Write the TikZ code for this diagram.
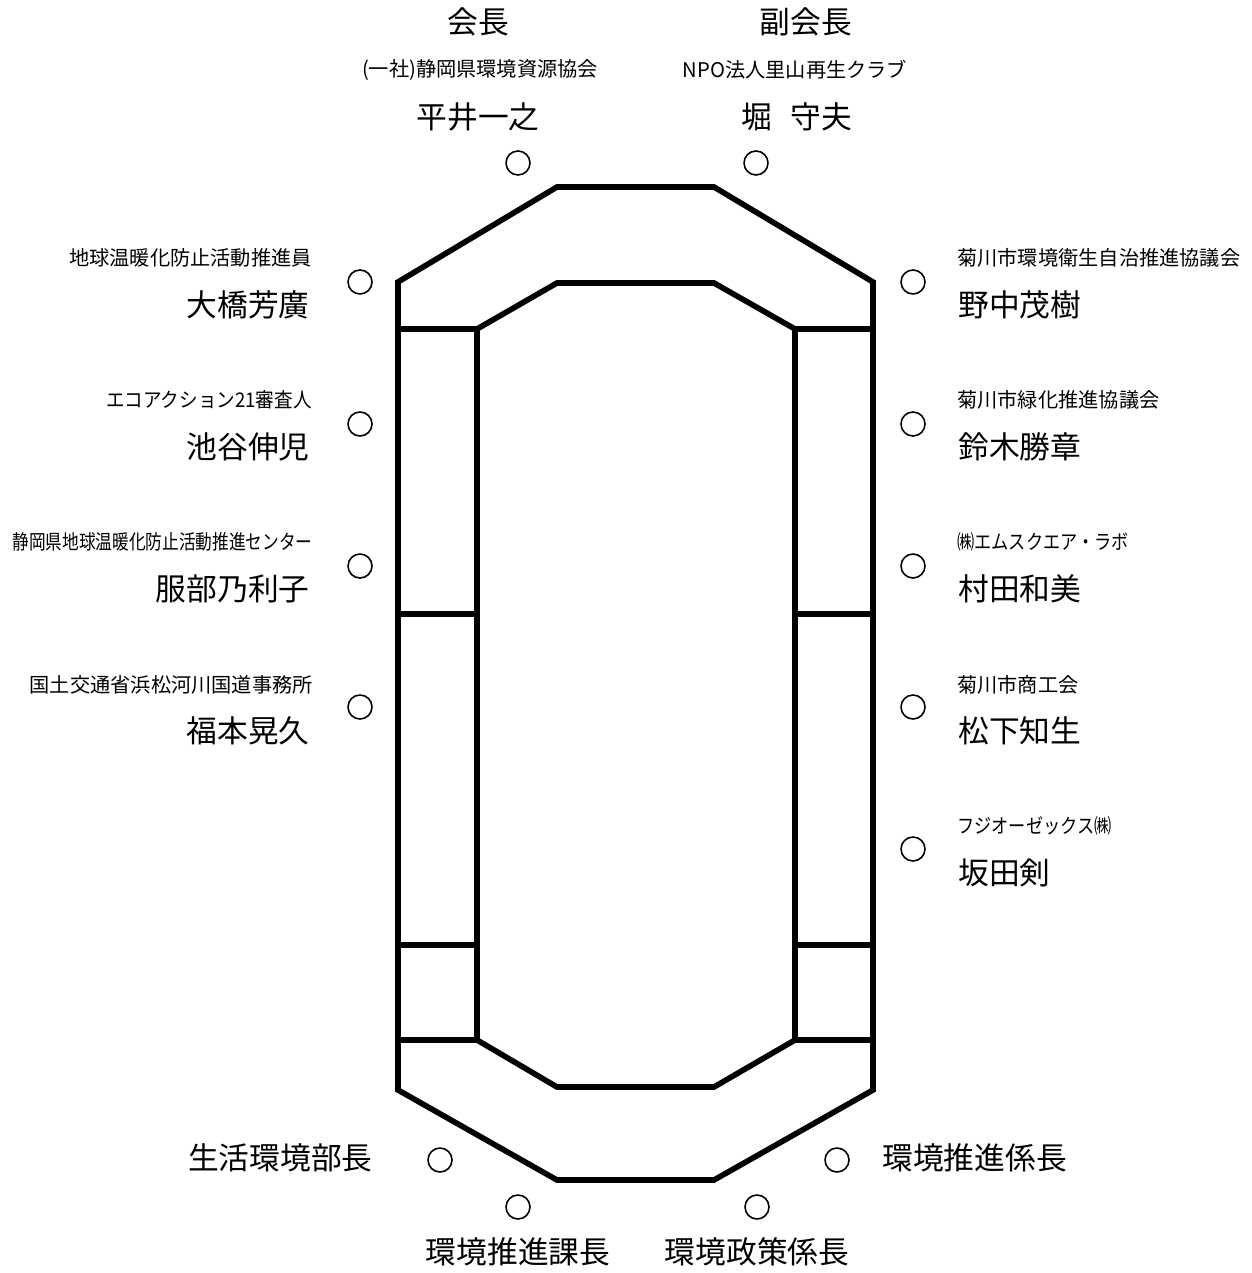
\documentclass[tikz,border=0pt]{standalone}
\usepackage{fontspec}
\setmainfont{Noto Sans CJK JP}
\begin{document}
\begin{tikzpicture}[x=0.02cm,y=-0.02cm,
  big/.style={font=\fontsize{17.5pt}{20pt}\selectfont, inner sep=0pt},
  small/.style={font=\fontsize{11.5pt}{13pt}\selectfont, inner sep=0pt},
  seat/.style={circle, draw, line width=0.9pt, minimum width=0.46cm, minimum height=0.48cm, inner sep=0pt},
  wall/.style={line width=3.2pt, line join=miter}]
\useasboundingbox (0,0) rectangle (1251,1273);
\fill[white] (0,0) rectangle (1251,1273);
% tables
\draw[wall] (557,187) -- (714,187) -- (873,282) -- (873,1090) -- (714,1180) -- (557,1180) -- (398,1090) -- (398,282) -- cycle;
\draw[wall] (557,283) -- (714,283) -- (795,329) -- (795,1040) -- (714,1087) -- (557,1087) -- (477,1040) -- (477,329) -- cycle;
\foreach \yy in {329,614,945,1040}{
  \draw[wall] (398,\yy) -- (477,\yy);
  \draw[wall] (795,\yy) -- (873,\yy);
}
% top
\node[big] (t1) at (478,22) {会長};
\node[big] (t2) at (806,22) {副会長};
\node[small] (o1) at (480,70) {(一社)静岡県環境資源協会};
\node[small] (o2) at (795,70) {NPO法人里山再生クラブ};
\node[big] (n1) at (478,117) {平井一之};
\node[big] (n2) at (797,117) {堀\hspace{0.6em}守夫};
\node[seat] (s1) at (518,163) {};
\node[seat] (s2) at (756,163) {};
% left side
\node[small, anchor=east] (lo1) at (312,258) {地球温暖化防止活動推進員};
\node[big, anchor=east] (ln1) at (310,305) {大橋芳廣};
\node[seat] (ls1) at (360,282) {};
\node[small, anchor=east] (lo2) at (312,400) {\scalebox{0.92}[1]{エコアクション21審査人}};
\node[big, anchor=east] (ln2) at (310,447) {池谷伸児};
\node[seat] (ls2) at (360,424) {};
\node[small, anchor=east] (lo3) at (313,542) {\scalebox{0.825}[1]{静岡県地球温暖化防止活動推進センター}};
\node[big, anchor=east] (ln3) at (310,589) {服部乃利子};
\node[seat] (ls3) at (360,566) {};
\node[small, anchor=east] (lo4) at (313,685) {国土交通省浜松河川国道事務所};
\node[big, anchor=east] (ln4) at (310,731) {福本晃久};
\node[seat] (ls4) at (360,707) {};
% right side
\node[small, anchor=west] (ro1) at (957,258) {菊川市環境衛生自治推進協議会};
\node[big, anchor=west] (rn1) at (958,305) {野中茂樹};
\node[seat] (rs1) at (913,282) {};
\node[small, anchor=west] (ro2) at (957,400) {菊川市緑化推進協議会};
\node[big, anchor=west] (rn2) at (958,447) {鈴木勝章};
\node[seat] (rs2) at (913,424) {};
\node[small, anchor=west] (ro3) at (957,542) {\scalebox{0.85}[1]{㈱エムスクエア・ラボ}};
\node[big, anchor=west] (rn3) at (958,589) {村田和美};
\node[seat] (rs3) at (913,566) {};
\node[small, anchor=west] (ro4) at (957,685) {菊川市商工会};
\node[big, anchor=west] (rn4) at (958,731) {松下知生};
\node[seat] (rs4) at (913,707) {};
\node[small, anchor=west] (ro5) at (957,826) {\scalebox{0.85}[1]{フジオーゼックス㈱}};
\node[big, anchor=west] (rn5) at (958,873) {坂田剣};
\node[seat] (rs5) at (913,849) {};
% bottom
\node[big, anchor=east] (b1) at (373,1158) {生活環境部長};
\node[seat] (bs1) at (440,1160) {};
\node[big, anchor=west] (b4) at (882,1158) {環境推進係長};
\node[seat] (bs4) at (837,1160) {};
\node[seat] (bs2) at (518,1207) {};
\node[seat] (bs3) at (757,1207) {};
\node[big] (b2) at (518,1252) {環境推進課長};
\node[big] (b3) at (757,1252) {環境政策係長};
\end{tikzpicture}
\end{document}
